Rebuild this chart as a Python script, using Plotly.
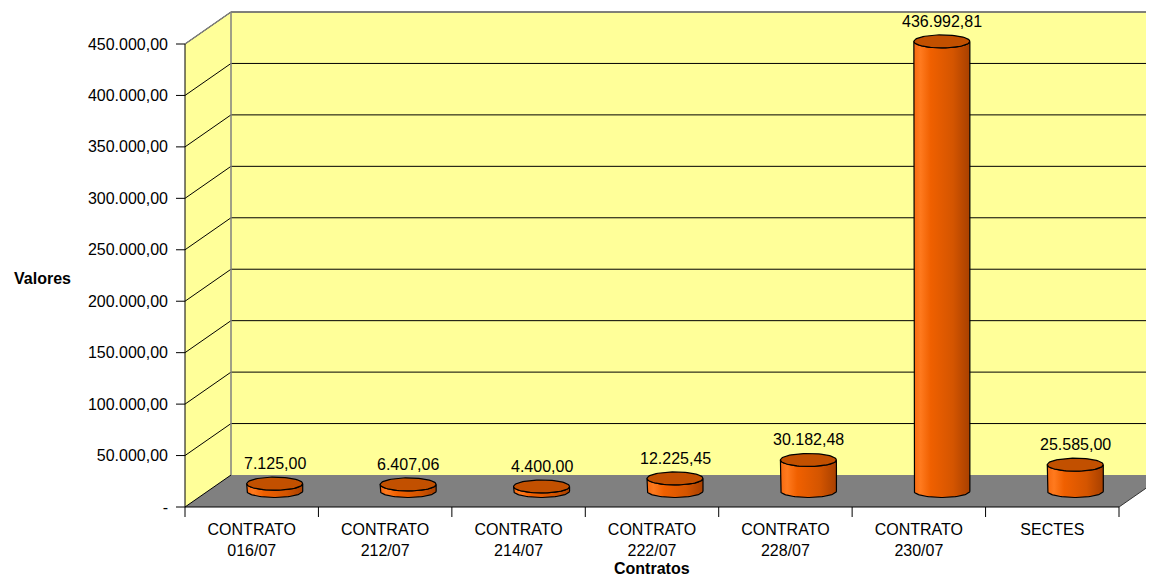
import numpy as np
import plotly.graph_objects as go

# ---------------- data ----------------
categories = ["CONTRATO<br>016/07", "CONTRATO<br>212/07", "CONTRATO<br>214/07",
              "CONTRATO<br>222/07", "CONTRATO<br>228/07", "CONTRATO<br>230/07", "SECTES"]
values = [7125.00, 6407.06, 4400.00, 12225.45, 30182.48, 436992.81, 25585.00]
value_labels = ["7.125,00", "6.407,06", "4.400,00", "12.225,45", "30.182,48", "436.992,81", "25.585,00"]
y_tickvals = [0, 50000, 100000, 150000, 200000, 250000, 300000, 350000, 400000, 450000]
y_ticktext = ["-", "50.000,00", "100.000,00", "150.000,00", "200.000,00", "250.000,00",
              "300.000,00", "350.000,00", "400.000,00", "450.000,00"]
x_title = "Contratos"
y_title = "Valores"

# ---------------- geometry ----------------
OFF = 8                                      # page body margin
W, H = 1154 - OFF, 578 - OFF
P = lambda v: v - OFF                        # screen px -> figure px
PL, PR, PT, PB = P(169), P(1154), P(9), P(518)   # plot area in figure pixels
X0PX, Y0PX = P(185), P(507)                  # front origin pixel
CW = (1119 - 185) / len(categories)          # px per category
YS = 463 / 450000                            # px per value unit
ux = lambda px: (px - X0PX) / CW
uy = lambda px: (Y0PX - px) / YS
DX = 46 / CW                                 # depth offset x
DY = 32 / YS                                 # depth offset y
n = len(categories)
ymax = max(y_tickvals)

WALL = "#FFFF99"
FLOOR = "#808080"
EDGE = "#808080"

shapes = []
def line(x0, y0, x1, y1, color="black", width=1):
    shapes.append(dict(type="line", xref="x", yref="y", x0=x0, y0=y0, x1=x1, y1=y1,
                       line=dict(color=color, width=width), layer="below"))

def poly(pts, fill, lc=None, lw=0):
    path = "M " + " L ".join(f"{x},{y}" for x, y in pts) + " Z"
    shapes.append(dict(type="path", xref="x", yref="y", path=path, fillcolor=fill,
                       line=dict(color=lc or fill, width=lw), layer="below"))

xr_max = ux(PR) + 0.1
# back wall
poly([(DX, DY), (xr_max, DY), (xr_max, ymax + DY), (DX, ymax + DY)], WALL)
# left wall
poly([(0, 0), (DX, DY), (DX, ymax + DY), (0, ymax)], WALL)
# floor
poly([(0, 0), (n, 0), (n + DX, DY), (DX, DY)], FLOOR)
# gridlines
for v in y_tickvals:
    if v > 0:
        line(DX, v + DY, xr_max, v + DY, "black")
    line(0, v, DX, v + DY, "black")
# wall edges
line(DX, DY, DX, ymax + DY, EDGE, 1.5)
line(DX, ymax + DY, xr_max, ymax + DY, EDGE, 1.5)
line(0, ymax, DX, ymax + DY, EDGE, 1.5)
# front axes
line(0, 0, 0, ymax, "black")
line(0, 0, n, 0, "black")
line(n, 0, n + DX, DY, "#333333")
# y tick marks
for v in y_tickvals:
    line(ux(P(176)), v, 0, v, "black")
# x tick marks
for i in range(n + 1):
    line(i, 0, i, uy(P(517)), "black")

# ---------------- cylinders ----------------
R = 28 / CW
RY = 6.5 / YS
base = DY / 2
t = np.linspace(0, np.pi, 60)
traces = []
annotations = []
for i, (v, lab) in enumerate(zip(values, value_labels)):
    xc = i + 0.5 + DX / 2
    top = base + v
    bx = list(xc - R * np.cos(t))
    by = list(base - RY * np.sin(t))
    tx = list(xc + R * np.cos(t))
    ty = list(top - RY * np.sin(t))
    xs = [xc - R] + bx + [xc + R] + tx
    ys = [top] + by + [top] + ty
    traces.append(go.Scatter(
        x=xs, y=ys, mode="lines", fill="toself",
        fillgradient=dict(type="horizontal",
                          colorscale=[[0, "#F66A10"], [0.12, "#FF7A1E"], [0.3, "#F06000"],
                                      [0.7, "#D45500"], [1, "#A84000"]]),
        line=dict(color="black", width=1.2), hoverinfo="skip", showlegend=False))
    th = np.linspace(0, 2 * np.pi, 80)
    traces.append(go.Scatter(
        x=list(xc + R * np.cos(th)), y=list(top + RY * np.sin(th)),
        mode="lines", fill="toself", fillcolor="#C25000",
        line=dict(color="black", width=1.2), hoverinfo="skip", showlegend=False))
    annotations.append(dict(x=xc, y=top, xref="x", yref="y", text=lab, showarrow=False,
                            xanchor="center", yanchor="middle",
                            yshift=20, font=dict(size=16, color="black")))

fig = go.Figure(traces)

def paper_x(px):
    return (P(px) - PL) / (PR - PL)
def paper_y(py):
    return (PB - P(py)) / (PB - PT)

annotations.append(dict(x=paper_x(42), y=paper_y(278), xref="paper", yref="paper",
                        xanchor="center", yanchor="middle",
                        text=f"<b>{y_title}</b>", showarrow=False,
                        font=dict(size=16, color="black")))
annotations.append(dict(x=paper_x(652), y=paper_y(569), xref="paper", yref="paper",
                        xanchor="center", yanchor="middle",
                        text=f"<b>{x_title}</b>", showarrow=False,
                        font=dict(size=16, color="black")))

fig.update_layout(
    width=W, height=H,
    margin=dict(l=PL, r=W - PR, t=PT, b=H - PB, pad=0),
    paper_bgcolor="white", plot_bgcolor="white",
    font=dict(family="Liberation Sans, Arial, sans-serif", size=16, color="black"),
    shapes=shapes, annotations=annotations, showlegend=False,
    xaxis=dict(range=[ux(PL), ux(PR)], showgrid=False, zeroline=False, showline=False,
               tickmode="array", tickvals=[i + 0.5 for i in range(n)], ticktext=categories,
               ticks="", tickfont=dict(size=16)),
    yaxis=dict(range=[uy(PB), uy(PT)], showgrid=False, zeroline=False, showline=False,
               tickmode="array", tickvals=y_tickvals, ticktext=y_ticktext,
               ticks="", tickfont=dict(size=16)),
)
fig.write_html("out.html")
